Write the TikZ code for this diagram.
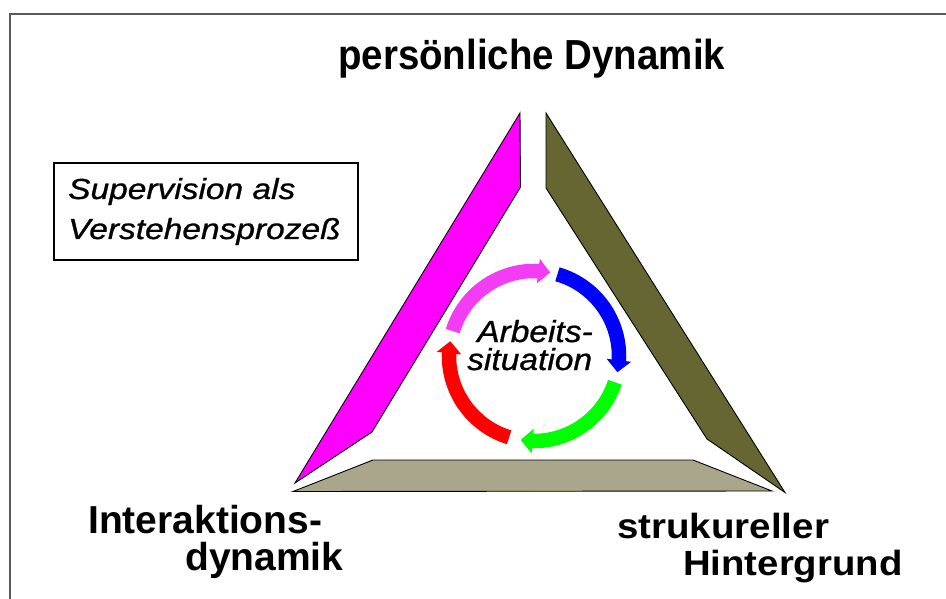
\documentclass[tikz,border=0pt]{standalone}
\usepackage{fontspec}
\usepackage{graphicx}
\setmainfont{Liberation Sans}
\newfontfamily\meditfont[FakeBold=0.8]{Liberation Sans Italic}
\usetikzlibrary{arrows.meta,bending}
\definecolor{olivebar}{RGB}{102,102,51}
\definecolor{tanbar}{RGB}{170,166,140}
\definecolor{magbar}{RGB}{255,0,255}
\definecolor{magarrow}{RGB}{245,60,245}
\definecolor{framegray}{RGB}{90,90,90}
\begin{document}
\begin{tikzpicture}[x=1pt,y=-1pt,
  bar/.style={draw=black,line width=0.9pt,line join=miter},
  cyc/.style={line width=14.5pt,-{Triangle[width=24pt,length=12pt,flex]}},
  lblbig/.style={anchor=base west,inner sep=0pt,font={\fontsize{39}{45}\selectfont\bfseries}},
  lblmid/.style={anchor=base west,inner sep=0pt,font={\fontsize{35}{41}\selectfont\bfseries}},
  lbltop/.style={anchor=base west,inner sep=0pt,font={\fontsize{42}{48}\selectfont\bfseries}},
  itl/.style={anchor=base west,inner sep=0pt,font={\fontsize{29}{34}\meditfont}},
  itc/.style={anchor=base west,inner sep=0pt,font={\fontsize{30.5}{35}\meditfont}}]
\useasboundingbox (0,0) rectangle (946,599);
\fill[white] (0,0) rectangle (946,599);
% frame
\draw[framegray,line width=2.5pt] (10,610) -- (10,14) -- (960,14);
% triangle bars
\filldraw[bar,fill=magbar] (520,113) -- (520.5,187) -- (372,432) -- (295,483) -- cycle;
\filldraw[bar,fill=olivebar] (546,113) -- (546,188) -- (707,439) -- (785,492.5) -- cycle;
\filldraw[bar,fill=tanbar] (373,460) -- (693,460) -- (772,491) -- (293,491.5) -- cycle;
% labels
\node[lbltop] (pd) at (338,70) {\scalebox{0.916}[1]{persönliche Dynamik}};
\node[lblbig] (ia) at (88,533) {Interaktions-};
\node[lblbig] (ib) at (185,570) {dynamik};
\node[lblmid] (sa) at (617,538) {\scalebox{1.1}[1]{strukureller}};
\node[lblmid] (sb) at (683,575) {\scalebox{1.095}[1]{Hintergrund}};
% supervision box
\node[draw=black,line width=1.2pt,minimum width=304pt,minimum height=97pt,inner sep=0pt] (box) at (206,211.5) {};
\node[itl] (su) at (68,199) {\scalebox{1.155}[1]{\selectfont Supervision als}};
\node[itl] (ve) at (68,239) {\scalebox{1.155}[1]{\selectfont Verstehensprozeß}};
% circular arrows
\coordinate (c) at (534,356);
\draw[cyc,magarrow] (c) ++(-163:85) arc[start angle=-163,end angle=-79,radius=85];
\draw[cyc,blue] (c) ++(-74:85) arc[start angle=-74,end angle=11,radius=85];
\draw[cyc,green] (c) ++(18:85) arc[start angle=18,end angle=99,radius=85];
\draw[cyc,red] (c) ++(107:85) arc[start angle=107,end angle=190,radius=85];
\node[itc] (ar) at (477,342) {\scalebox{1.1}[1]{\selectfont Arbeits-}};
\node[itc] (si) at (467,370) {\scalebox{1.1}[1]{\selectfont situation}};
\end{tikzpicture}
\end{document}
